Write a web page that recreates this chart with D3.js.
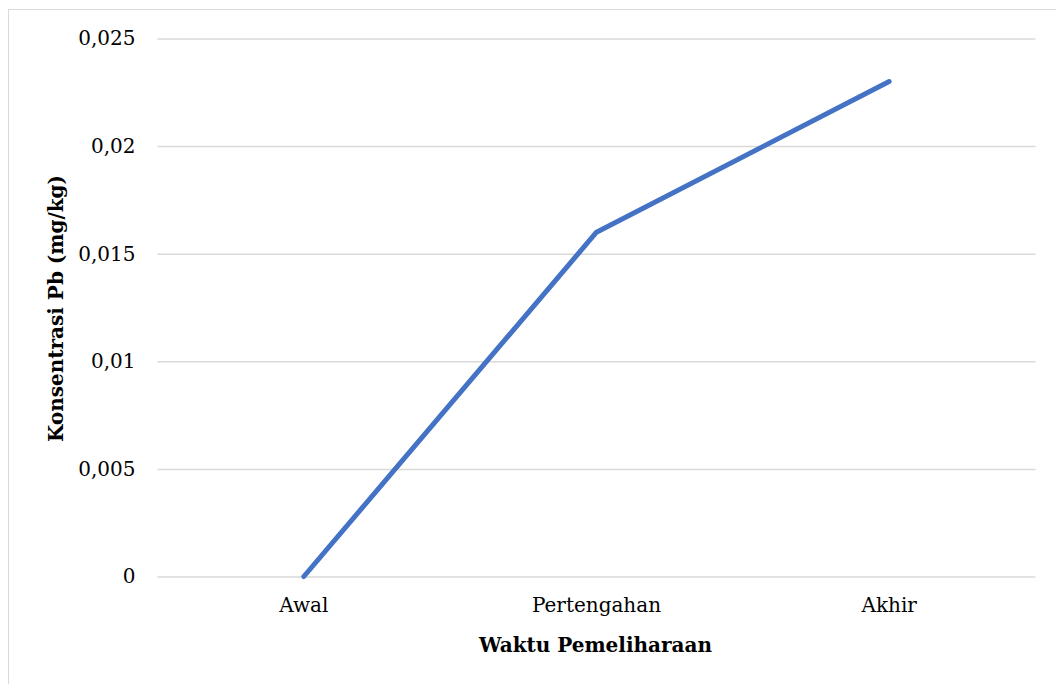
<!DOCTYPE html>
<html><head><meta charset="utf-8">
<script src="https://cdn.jsdelivr.net/npm/d3@7"></script>
<style>body{margin:0;background:#fff}svg{display:block}</style>
</head><body>
<svg id="chart" width="1056" height="684"></svg>
<script>
const categories = ["Awal", "Pertengahan", "Akhir"];
const values = [0, 0.016, 0.023];
const yTicks = [0, 0.005, 0.01, 0.015, 0.02, 0.025];
const yTickLabels = ["0", "0,005", "0,01", "0,015", "0,02", "0,025"];
const xTitle = "Waktu Pemeliharaan";
const yTitle = "Konsentrasi Pb (mg/kg)";

const svg = d3.select("#chart");
const font = "'DejaVu Serif', serif";
const mLeft = 157.5, mRight = 1035.5, mTop = 38.5, mBottom = 576.5;

svg.append("rect").attr("x", 8.5).attr("y", 9.5).attr("width", 1100).attr("height", 700)
  .attr("fill", "none").attr("stroke", "#d9d9d9").attr("stroke-width", 1);

const x = d3.scaleBand().domain(categories).range([mLeft, mRight]);
const y = d3.scaleLinear().domain([0, 0.025]).range([mBottom, mTop]);

const yAxis = d3.axisLeft(y).tickValues(yTicks).tickSize(-(mRight - mLeft)).tickPadding(22)
  .tickFormat((d, i) => yTickLabels[i]);
const gy = svg.append("g").attr("transform", `translate(${mLeft},0)`).call(yAxis);
gy.select(".domain").remove();
gy.selectAll(".tick line").attr("stroke", "#d9d9d9").attr("stroke-width", 1.5);
gy.selectAll(".tick text").attr("font-family", font).attr("font-size", 20).attr("fill", "#000");

const xAxis = d3.axisBottom(x).tickSize(0).tickPadding(21);
const gx = svg.append("g").attr("transform", `translate(0,${mBottom})`).call(xAxis);
gx.select(".domain").remove();
gx.selectAll(".tick text").attr("font-family", font).attr("font-size", 20).attr("fill", "#000");

const line = d3.line().x((d, i) => x(categories[i]) + x.bandwidth() / 2).y(d => y(d));
svg.append("path").datum(values).attr("d", line).attr("fill", "none")
  .attr("stroke", "#4472c4").attr("stroke-width", 5)
  .attr("stroke-linecap", "round").attr("stroke-linejoin", "round");

svg.append("text").attr("x", (mLeft + mRight) / 2 - 1).attr("y", 652).attr("text-anchor", "middle")
  .attr("font-family", font).attr("font-weight", "bold").attr("font-size", 20).text(xTitle);
svg.append("text").attr("transform", `translate(63,${(mTop + mBottom) / 2 + 1}) rotate(-90)`)
  .attr("text-anchor", "middle")
  .attr("font-family", font).attr("font-weight", "bold").attr("font-size", 20).text(yTitle);
</script>
</body></html>
